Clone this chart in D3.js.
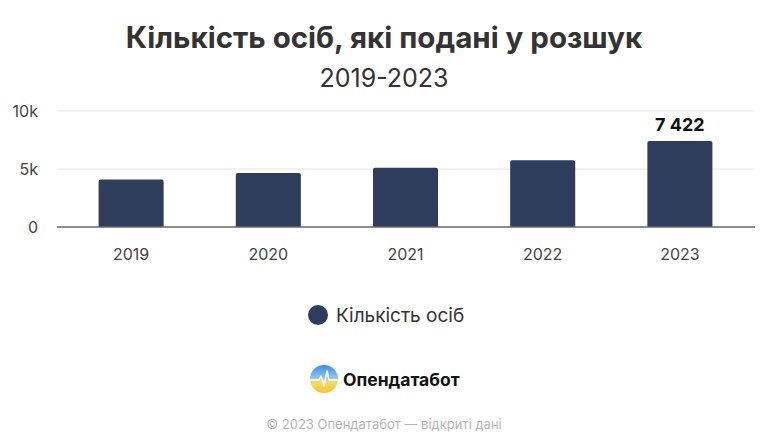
<!DOCTYPE html>
<html>
<head>
<meta charset="utf-8">
<script src="https://cdn.jsdelivr.net/npm/d3@7"></script>
<style>
  body { margin: 0; background: #fff; }
  svg { display: block; font-family: Inter, "Noto Sans", sans-serif; }
</style>
</head>
<body>
<div id="chart-area"></div>
<script>
// data
var years = ["2019", "2020", "2021", "2022", "2023"];
var persons = [4100, 4650, 5100, 5750, 7422];
var yTicks = [0, 5000, 10000];
var yTickLabels = ["0", "5k", "10k"];
var seriesName = "Кількість осіб";

var W = 768, H = 448;
var margin = { left: 57, right: 13, top: 111, bottom: 221 };
var width = W - margin.left - margin.right,
    height = H - margin.top - margin.bottom;

var barColor = "#2e3d5c";

var svg = d3.select("#chart-area")
    .append("svg")
        .attr("width", W)
        .attr("height", H);

// title + subtitle
svg.append("text")
    .attr("x", W / 2)
    .attr("y", 48)
    .attr("text-anchor", "middle")
    .attr("font-size", "29.5px")
    .attr("font-weight", 700)
    .attr("fill", "#333")
    .text("Кількість осіб, які подані у розшук");
svg.append("text")
    .attr("x", W / 2)
    .attr("y", 87)
    .attr("text-anchor", "middle")
    .attr("font-size", "25px")
    .attr("fill", "#333")
    .text("2019-2023");

var g = svg.append("g")
    .attr("transform", "translate(" + margin.left + "," + margin.top + ")");

// scales
var x = d3.scaleBand()
    .domain(years)
    .range([5.5, width - 6.5])
    .paddingInner(0.526)
    .paddingOuter(0.263);
var y = d3.scaleLinear()
    .domain([0, 10000])
    .range([height, 0]);

// gridlines
g.selectAll(".grid")
    .data(yTicks.slice(1))
    .enter().append("line")
        .attr("x1", 0)
        .attr("x2", width)
        .attr("y1", function(d){ return y(d); })
        .attr("y2", function(d){ return y(d); })
        .attr("stroke", "#e6e6e6")
        .attr("stroke-width", 1.2);

// Y axis labels
var yAxisCall = d3.axisLeft(y)
    .tickValues(yTicks)
    .tickSize(0)
    .tickPadding(19)
    .tickFormat(function(d, i){ return yTickLabels[i]; });
var yAxis = g.append("g").call(yAxisCall);
yAxis.select(".domain").remove();
yAxis.selectAll("text")
    .attr("font-size", "16px")
    .attr("font-family", "Inter, sans-serif")
    .attr("fill", "#444");

// bars with slightly rounded tops
g.selectAll(".bar")
    .data(persons)
    .enter().append("path")
        .attr("fill", barColor)
        .attr("d", function(d, i){
            var x0 = x(years[i]), bw = x.bandwidth(), y0 = y(d), r = 2;
            return "M" + x0 + "," + height +
                "V" + (y0 + r) + "Q" + x0 + "," + y0 + " " + (x0 + r) + "," + y0 +
                "H" + (x0 + bw - r) + "Q" + (x0 + bw) + "," + y0 + " " + (x0 + bw) + "," + (y0 + r) +
                "V" + height + "Z";
        });

// value label on last bar
var last = persons.length - 1;
g.append("text")
    .attr("x", x(years[last]) + x.bandwidth() / 2)
    .attr("y", y(persons[last]) - 10)
    .attr("text-anchor", "middle")
    .attr("font-size", "18px")
    .attr("font-weight", 700)
    .attr("fill", "#111")
    .text(d3.format(",")(persons[last]).replace(",", " "));

// X axis (baseline)
var xAxisCall = d3.axisBottom(x).tickSize(0).tickPadding(22);
var xAxis = g.append("g")
    .attr("transform", "translate(0," + height + ")")
    .call(xAxisCall);
xAxis.select(".domain").remove();
xAxis.selectAll("text")
    .attr("font-size", "16px")
    .attr("font-family", "Inter, sans-serif")
    .attr("fill", "#444");
g.append("line")
    .attr("x1", 0).attr("x2", width)
    .attr("y1", height).attr("y2", height)
    .attr("stroke", "#666")
    .attr("stroke-width", 1.5);

// legend
var legend = svg.append("g").attr("transform", "translate(318,315)");
legend.append("circle")
    .attr("r", 10)
    .attr("fill", barColor);
legend.append("text")
    .attr("x", 18)
    .attr("y", 7)
    .attr("font-size", "19px")
    .attr("fill", "#333")
    .text(seriesName);

// logo
var defs = svg.append("defs");
var grad = defs.append("linearGradient")
    .attr("id", "logoGrad")
    .attr("x1", 0).attr("y1", 0).attr("x2", 0).attr("y2", 1);
grad.append("stop").attr("offset", "0%").attr("stop-color", "#3b8ee8");
grad.append("stop").attr("offset", "45%").attr("stop-color", "#8cc4e8");
grad.append("stop").attr("offset", "60%").attr("stop-color", "#f2dc6a");
grad.append("stop").attr("offset", "100%").attr("stop-color", "#f5c531");

var logo = svg.append("g").attr("transform", "translate(324,379)");
logo.append("circle")
    .attr("r", 14)
    .attr("fill", "url(#logoGrad)");
logo.append("path")
    .attr("d", "M-14,1 H-5 L-3,-3 L0,7 L3,-8 L5,1 H14")
    .attr("fill", "none")
    .attr("stroke", "#fff")
    .attr("stroke-width", 1.5)
    .attr("stroke-linejoin", "round");
svg.append("text")
    .attr("x", 343)
    .attr("y", 386)
    .attr("font-size", "17.5px")
    .attr("font-weight", 700)
    .attr("fill", "#111")
    .text("Опендатабот");

// footer
svg.append("text")
    .attr("x", W / 2)
    .attr("y", 429)
    .attr("text-anchor", "middle")
    .attr("font-size", "13px")
    .attr("fill", "#b5b5b5")
    .text("© 2023 Опендатабот — відкриті дані");
</script>
</body>
</html>
